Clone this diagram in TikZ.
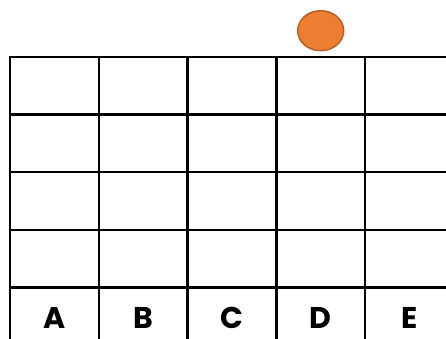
\documentclass[tikz,border=0pt]{standalone}
\usepackage{fontspec}
\setmainfont{Poppins}
\usetikzlibrary{shapes.geometric}
\definecolor{ball}{HTML}{ED7D31}
\definecolor{balledge}{HTML}{B5602A}
\begin{document}
\begin{tikzpicture}[x=1pt,y=-1pt,
  gridline/.style={line width=2.4pt,black},
  lbl/.style={font=\fontsize{30}{30}\selectfont\bfseries,anchor=base,inner sep=0pt}]
\useasboundingbox (0,0) rectangle (446,339);
\clip (0,0) rectangle (446,339);
\foreach \x in {10,98.8,187.6,276.4,365.2,454}
  \draw[gridline] (\x,57) -- (\x,346);
\foreach \y in {57,114.6,172.2,229.8,287.4,345}
  \draw[gridline] (8.8,\y) -- (455,\y);
\foreach \n/\x in {A/54.4,B/143.2,C/232,D/320.8,E/409.6}
  \node[lbl] (lbl\n) at (\x,328) {\n};
\node[draw=balledge,fill=ball,line width=1.5pt,ellipse,minimum width=46,minimum height=40,inner sep=0pt] (ball) at (320.7,30.7) {};
\end{tikzpicture}
\end{document}
